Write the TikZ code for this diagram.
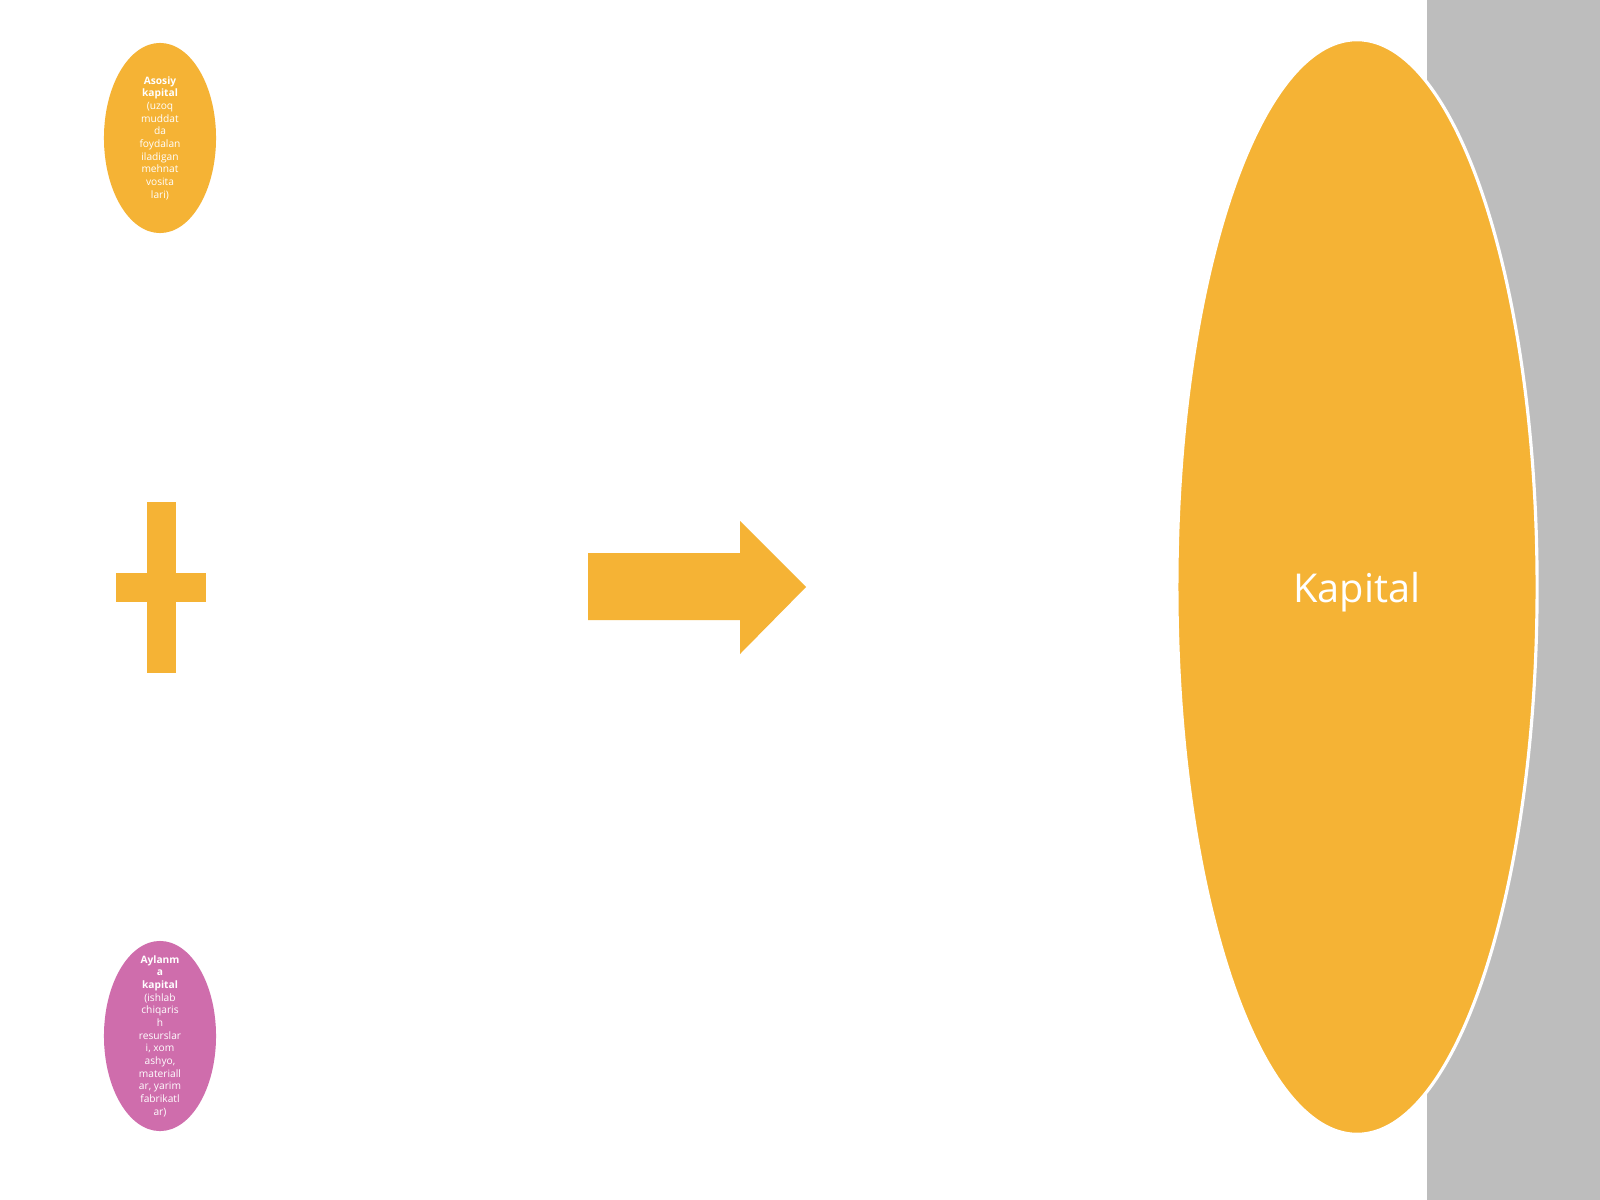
\documentclass[tikz,border=0pt]{standalone}
\usepackage{fontspec}
\setmainfont{Open Sans}
\usetikzlibrary{shapes.geometric}
\definecolor{gold}{HTML}{F5B335}
\definecolor{pinkish}{HTML}{CF6DAC}
\definecolor{sidegray}{HTML}{BDBDBD}
\tikzset{
  bubble/.style={ellipse, inner sep=0pt, text=white, align=center},
  smallbubble/.style={bubble, minimum width=1.12cm, minimum height=1.9cm},
  tinytext/.style={text=white, align=center, inner sep=0pt, font=\fontsize{2.9pt}{3.6pt}\selectfont},
}
\begin{document}
\begin{tikzpicture}[x=0.01cm,y=-0.01cm]
\useasboundingbox (0,0) rectangle (1600,1200);
\fill[white] (0,0) rectangle (1600,1200);
% gray side panel
\fill[sidegray] (1427,0) rectangle (1600,1200);
% big ellipse
\node[bubble, fill=gold, draw=white, line width=0.9pt, minimum width=3.6cm, minimum height=10.94cm] (kap) at (1357,587) {};
\node[text=white, font=\fontsize{11.3pt}{13pt}\selectfont] (kaptext) at (1357,592) {Kapital};
% top small ellipse
\node[smallbubble, fill=gold] (asosiy) at (160,138) {};
\node[tinytext] (asosiytext) at (asosiy.center)
  {\textbf{Asosiy}\\\textbf{kapital}\\(uzoq\\muddat\\da\\foydalan\\iladigan\\mehnat\\vosita\\lari)};
% bottom small ellipse
\node[smallbubble, fill=pinkish] (aylanma) at (160,1036) {};
\node[tinytext] (aylanmatext) at (aylanma.center)
  {\textbf{Aylanm}\\\textbf{a}\\\textbf{kapital}\\(ishlab\\chiqaris\\h\\resurslar\\i, xom\\ashyo,\\materiall\\ar, yarim\\fabrikatl\\ar)};
% plus sign
\coordinate (plus) at (161,587);
\fill[gold] (147,502) rectangle (176,673);
\fill[gold] (116,573) rectangle (206,602);
% block arrow
\coordinate (arrowtip) at (806,587);
\fill[gold] (588,553) -- (740,553) -- (740,521) -- (arrowtip) -- (740,654) -- (740,620) -- (588,620) -- cycle;
\end{tikzpicture}
\end{document}
